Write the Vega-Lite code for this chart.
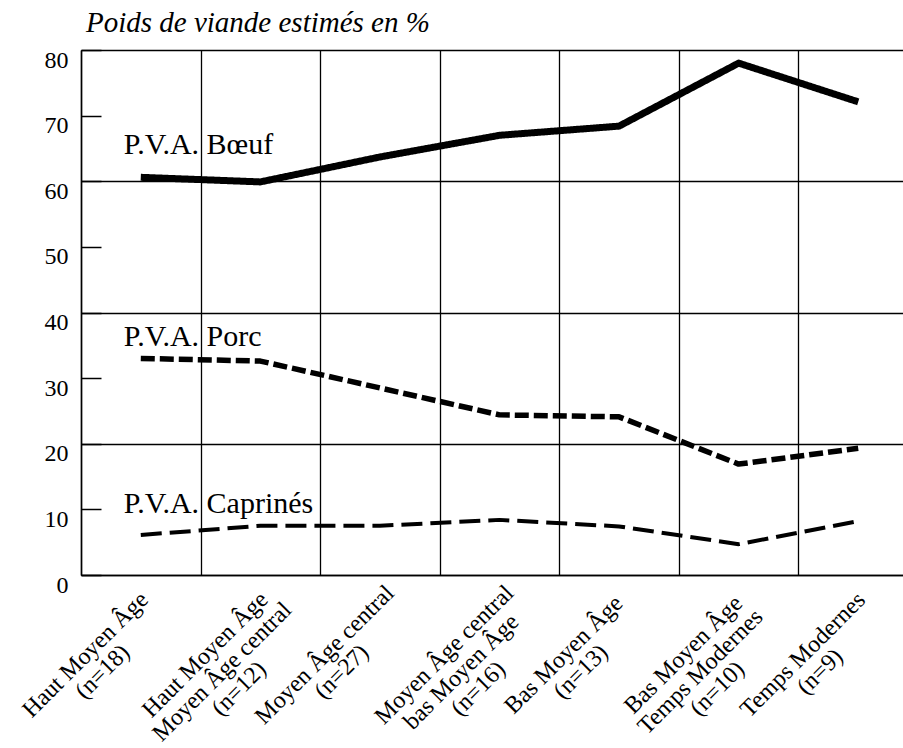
{
  "$schema": "https://vega.github.io/schema/vega-lite/v6.json",
  "width": 822,
  "height": 525,
  "autosize": {"type": "none"},
  "padding": {"left": 81, "top": 50, "right": 0, "bottom": 173},
  "background": "white",
  "title": {
    "text": "Poids de viande estimés en %",
    "anchor": "start",
    "frame": "group",
    "font": "Liberation Serif",
    "fontStyle": "italic",
    "fontWeight": "normal",
    "fontSize": 29,
    "color": "black",
    "offset": 10,
    "dx": 5
  },
  "config": {"view": {"stroke": null}, "font": "Liberation Serif"},
  "datasets": {
    "series": [
      {"periode": "Haut Moyen Âge|(n=18)", "serie": "Bœuf", "pct": 60.6},
      {"periode": "Haut Moyen Âge|Moyen Âge central|(n=12)", "serie": "Bœuf", "pct": 59.9},
      {"periode": "Moyen Âge central|(n=27)", "serie": "Bœuf", "pct": 63.7},
      {"periode": "Moyen Âge central|bas Moyen Âge|(n=16)", "serie": "Bœuf", "pct": 67.0},
      {"periode": "Bas Moyen Âge|(n=13)", "serie": "Bœuf", "pct": 68.4},
      {"periode": "Bas Moyen Âge|Temps Modernes|(n=10)", "serie": "Bœuf", "pct": 78.0},
      {"periode": "Temps Modernes|(n=9)", "serie": "Bœuf", "pct": 72.1},
      {"periode": "Haut Moyen Âge|(n=18)", "serie": "Porc", "pct": 33.0},
      {"periode": "Haut Moyen Âge|Moyen Âge central|(n=12)", "serie": "Porc", "pct": 32.6},
      {"periode": "Moyen Âge central|(n=27)", "serie": "Porc", "pct": 28.5},
      {"periode": "Moyen Âge central|bas Moyen Âge|(n=16)", "serie": "Porc", "pct": 24.4},
      {"periode": "Bas Moyen Âge|(n=13)", "serie": "Porc", "pct": 24.1},
      {"periode": "Bas Moyen Âge|Temps Modernes|(n=10)", "serie": "Porc", "pct": 16.9},
      {"periode": "Temps Modernes|(n=9)", "serie": "Porc", "pct": 19.3},
      {"periode": "Haut Moyen Âge|(n=18)", "serie": "Caprinés", "pct": 6.1},
      {"periode": "Haut Moyen Âge|Moyen Âge central|(n=12)", "serie": "Caprinés", "pct": 7.5},
      {"periode": "Moyen Âge central|(n=27)", "serie": "Caprinés", "pct": 7.5},
      {"periode": "Moyen Âge central|bas Moyen Âge|(n=16)", "serie": "Caprinés", "pct": 8.4},
      {"periode": "Bas Moyen Âge|(n=13)", "serie": "Caprinés", "pct": 7.4},
      {"periode": "Bas Moyen Âge|Temps Modernes|(n=10)", "serie": "Caprinés", "pct": 4.7},
      {"periode": "Temps Modernes|(n=9)", "serie": "Caprinés", "pct": 8.2}
    ],
    "etiquettes": [
      {"periode": "Haut Moyen Âge|(n=18)", "texte": "P.V.A. Bœuf", "pct": 64.2},
      {"periode": "Haut Moyen Âge|(n=18)", "texte": "P.V.A. Porc", "pct": 34.9},
      {"periode": "Haut Moyen Âge|(n=18)", "texte": "P.V.A. Caprinés", "pct": 9.4}
    ]
  },
  "layer": [
    {
      "data": {"name": "series"},
      "mark": {"type": "line", "strokeCap": "butt", "strokeJoin": "round", "color": "black"},
      "encoding": {
        "x": {
          "field": "periode",
          "type": "nominal",
          "sort": null,
          "scale": {"type": "band", "range": [0, 837], "paddingInner": 0, "paddingOuter": 0},
          "axis": {
            "title": null,
            "tickBand": "extent",
            "ticks": false,
            "tickSize": 0,
            "grid": true,
            "gridColor": "black",
            "gridWidth": 1.3,
            "gridOpacity": 1,
            "domainColor": "black",
            "domainWidth": 1.5,
            "labelAngle": -45,
            "labelAlign": "center",
            "labelBaseline": "top",
            "labelExpr": "split(datum.label, '|')",
            "labelFont": "Liberation Serif",
            "labelFontSize": 24,
            "labelLineHeight": 24,
            "labelColor": "black",
            "labelOffset": -64,
            "labelPadding": 71,
            "labelOverlap": false,
            "labelBound": false,
            "labelLimit": 0
          }
        },
        "y": {
          "field": "pct",
          "type": "quantitative",
          "scale": {"domain": [0, 80], "nice": false},
          "axis": {
            "title": null,
            "values": [0, 10, 20, 30, 40, 50, 60, 70, 80],
            "domainColor": "black",
            "domainWidth": 1.5,
            "tickColor": "black",
            "tickWidth": 1.5,
            "tickSize": -20,
            "labelFont": "Liberation Serif",
            "labelFontSize": 24,
            "labelColor": "black",
            "labelPadding": 33,
            "labelOffset": 10,
            "grid": true,
            "gridColor": "black",
            "gridWidth": 1.5,
            "gridOpacity": {"condition": {"test": "datum.value % 20 === 0", "value": 1}, "value": 0}
          }
        },
        "detail": {"field": "serie", "type": "nominal"},
        "strokeDash": {
          "field": "serie",
          "type": "nominal",
          "scale": {"domain": ["Bœuf", "Porc", "Caprinés"], "range": [[1, 0], [14, 5], [21, 8]]},
          "legend": null
        },
        "strokeWidth": {
          "field": "serie",
          "type": "nominal",
          "scale": {"domain": ["Bœuf", "Porc", "Caprinés"], "range": [7, 4, 3.5]},
          "legend": null
        }
      }
    },
    {
      "data": {"name": "etiquettes"},
      "mark": {"type": "text", "align": "left", "baseline": "alphabetic", "dx": -17, "fontSize": 30, "font": "Liberation Serif", "color": "black"},
      "encoding": {
        "x": {"field": "periode", "type": "nominal", "sort": null},
        "y": {"field": "pct", "type": "quantitative"},
        "text": {"field": "texte"}
      }
    }
  ]
}
